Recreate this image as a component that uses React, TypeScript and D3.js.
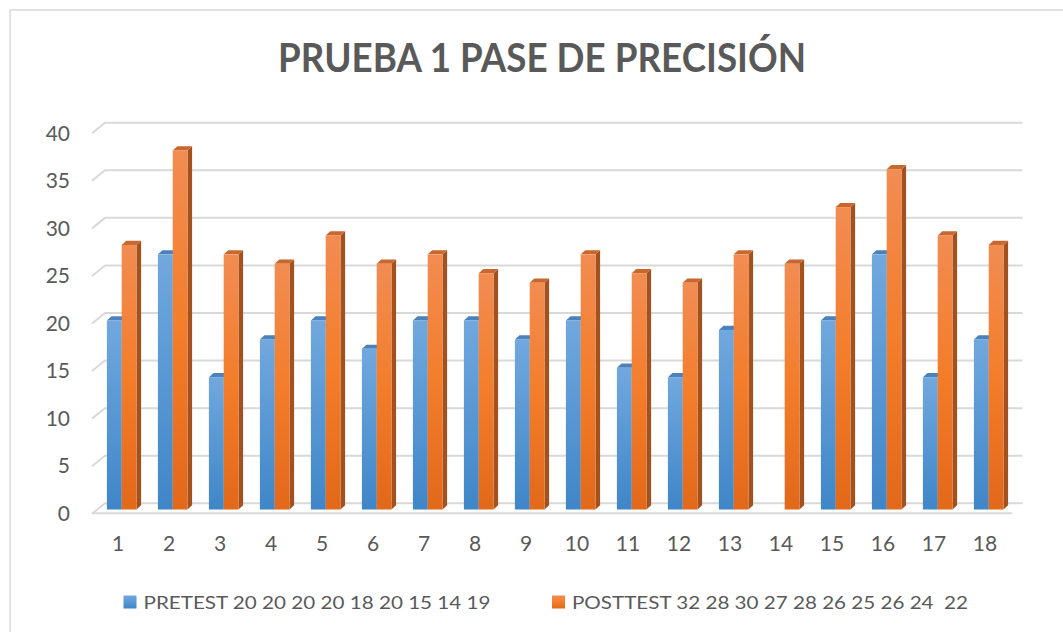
import React from "react";
import * as d3 from "d3";

const categories = ["1","2","3","4","5","6","7","8","9","10","11","12","13","14","15","16","17","18"];
const pretest = [20, 27, 14, 18, 20, 17, 20, 20, 18, 20, 15, 14, 19, 0, 20, 27, 14, 18];
const posttest = [28, 38, 27, 26, 29, 26, 27, 25, 24, 27, 25, 24, 27, 26, 32, 36, 29, 28];
const yTicks = [0, 5, 10, 15, 20, 25, 30, 35, 40];
const title = "PRUEBA 1 PASE DE PRECISIÓN";
const legendLabels = ["PRETEST 20 20 20 20 18 20 15 14 19", "POSTTEST 32 28 30 27 28 26 25 26 24  22"];

const W = 1063, H = 632;
const FONT = "Lato, 'Open Sans', sans-serif";
const TXT = "#595959";

export default function App() {
  const x = d3.scaleBand<string>().domain(categories).range([92.5, 1010.5]).padding(0);
  const yBack = d3.scaleLinear().domain([0, 40]).range([503.3, 122.7]);
  const yBar = d3.scaleLinear().domain([0, 40]).range([509.5, 131.5]);
  const yLabel = d3.scaleLinear().domain([0, 40]).range([513, 133]);
  const wallDx = 13, wallDy = 10.5;
  const barW = 14.8, depthX = 4.6, depthY = 4.2, groupOff = 14.4;

  const series = [
    { values: pretest, grad: "gBlue", side: "#3a6d9f", top: "#4a82bb" },
    { values: posttest, grad: "gOrange", side: "#a3511f", top: "#c8672e" },
  ];

  const bars: JSX.Element[] = [];
  categories.forEach((c, i) => {
    series.forEach((s, k) => {
      const v = s.values[i];
      if (!(v > 0)) return;
      const x0 = (x(c) as number) + groupOff + k * barW;
      const x1 = x0 + barW;
      const yt = yBar(v);
      const yb = yBar(0);
      bars.push(
        <g key={`${c}-${k}`}>
          <polygon
            points={`${x1},${yt} ${x1 + depthX},${yt - depthY} ${x1 + depthX},${yb - depthY} ${x1},${yb}`}
            fill={s.side}
          />
          <polygon
            points={`${x0},${yt} ${x0 + depthX},${yt - depthY} ${x1 + depthX},${yt - depthY} ${x1},${yt}`}
            fill={s.top}
          />
          <rect x={x0} y={yt} width={barW} height={yb - yt} fill={`url(#${s.grad})`} />
        </g>
      );
    });
  });

  const gridLeft = 105, gridRight = 1022.5;

  return (
    <svg width={W} height={H} style={{ position: "absolute", left: 0, top: 0, display: "block" }}
      fontFamily={FONT}>
      <defs>
        <linearGradient id="gBlue" x1="0" y1="0" x2="0" y2="1">
          <stop offset="0" stopColor="#71a8de" />
          <stop offset="1" stopColor="#3f86c8" />
        </linearGradient>
        <linearGradient id="gOrange" x1="0" y1="0" x2="0" y2="1">
          <stop offset="0" stopColor="#f28c52" />
          <stop offset="0.5" stopColor="#f37d2a" />
          <stop offset="1" stopColor="#e2681a" />
        </linearGradient>
      </defs>
      <rect x={0} y={0} width={W} height={H} fill="#ffffff" />
      <rect x={10} y={10} width={W + 50} height={H + 50} fill="#ffffff" stroke="#d9d9d9" strokeWidth={1.5} />

      <text x={542} y={72} textAnchor="middle" fontSize={41} fontWeight="bold" fill={TXT}
        textLength={528} lengthAdjust="spacingAndGlyphs">{title}</text>

      {/* back wall gridlines */}
      <g stroke="#d9d9d9" strokeWidth={2} fill="none">
        {yTicks.map((t) => (
          <polyline key={t}
            points={`${gridLeft - wallDx},${yBack(t) + wallDy} ${gridLeft},${yBack(t)} ${gridRight},${yBack(t)}`} />
        ))}
        <line x1={gridLeft - wallDx} y1={yBack(0) + wallDy - 0.5} x2={1012} y2={yBack(0) + wallDy - 0.5} />
      </g>

      {/* y-axis labels */}
      <g fontSize={21} fill={TXT} textAnchor="end">
        {yTicks.map((t) => (
          <text key={t} x={70} y={yLabel(t)} dy="0.36em">{t}</text>
        ))}
      </g>

      {bars}

      {/* category labels */}
      <g fontSize={21} fill={TXT} textAnchor="middle">
        {categories.map((c) => (
          <text key={c} x={(x(c) as number) + x.bandwidth() / 2} y={551}>{c}</text>
        ))}
      </g>

      {/* legend */}
      <rect x={123.5} y={595.5} width={13} height={13} fill="url(#gBlue)" />
      <text x={143.5} y={608.5} fontSize={18} fill={TXT} textLength={347} lengthAdjust="spacingAndGlyphs">{legendLabels[0]}</text>
      <rect x={552} y={595.5} width={13} height={13} fill="url(#gOrange)" />
      <text x={572} y={608.5} fontSize={18} fill={TXT} textLength={396} lengthAdjust="spacingAndGlyphs" style={{ whiteSpace: "pre" }}>{legendLabels[1]}</text>
    </svg>
  );
}
